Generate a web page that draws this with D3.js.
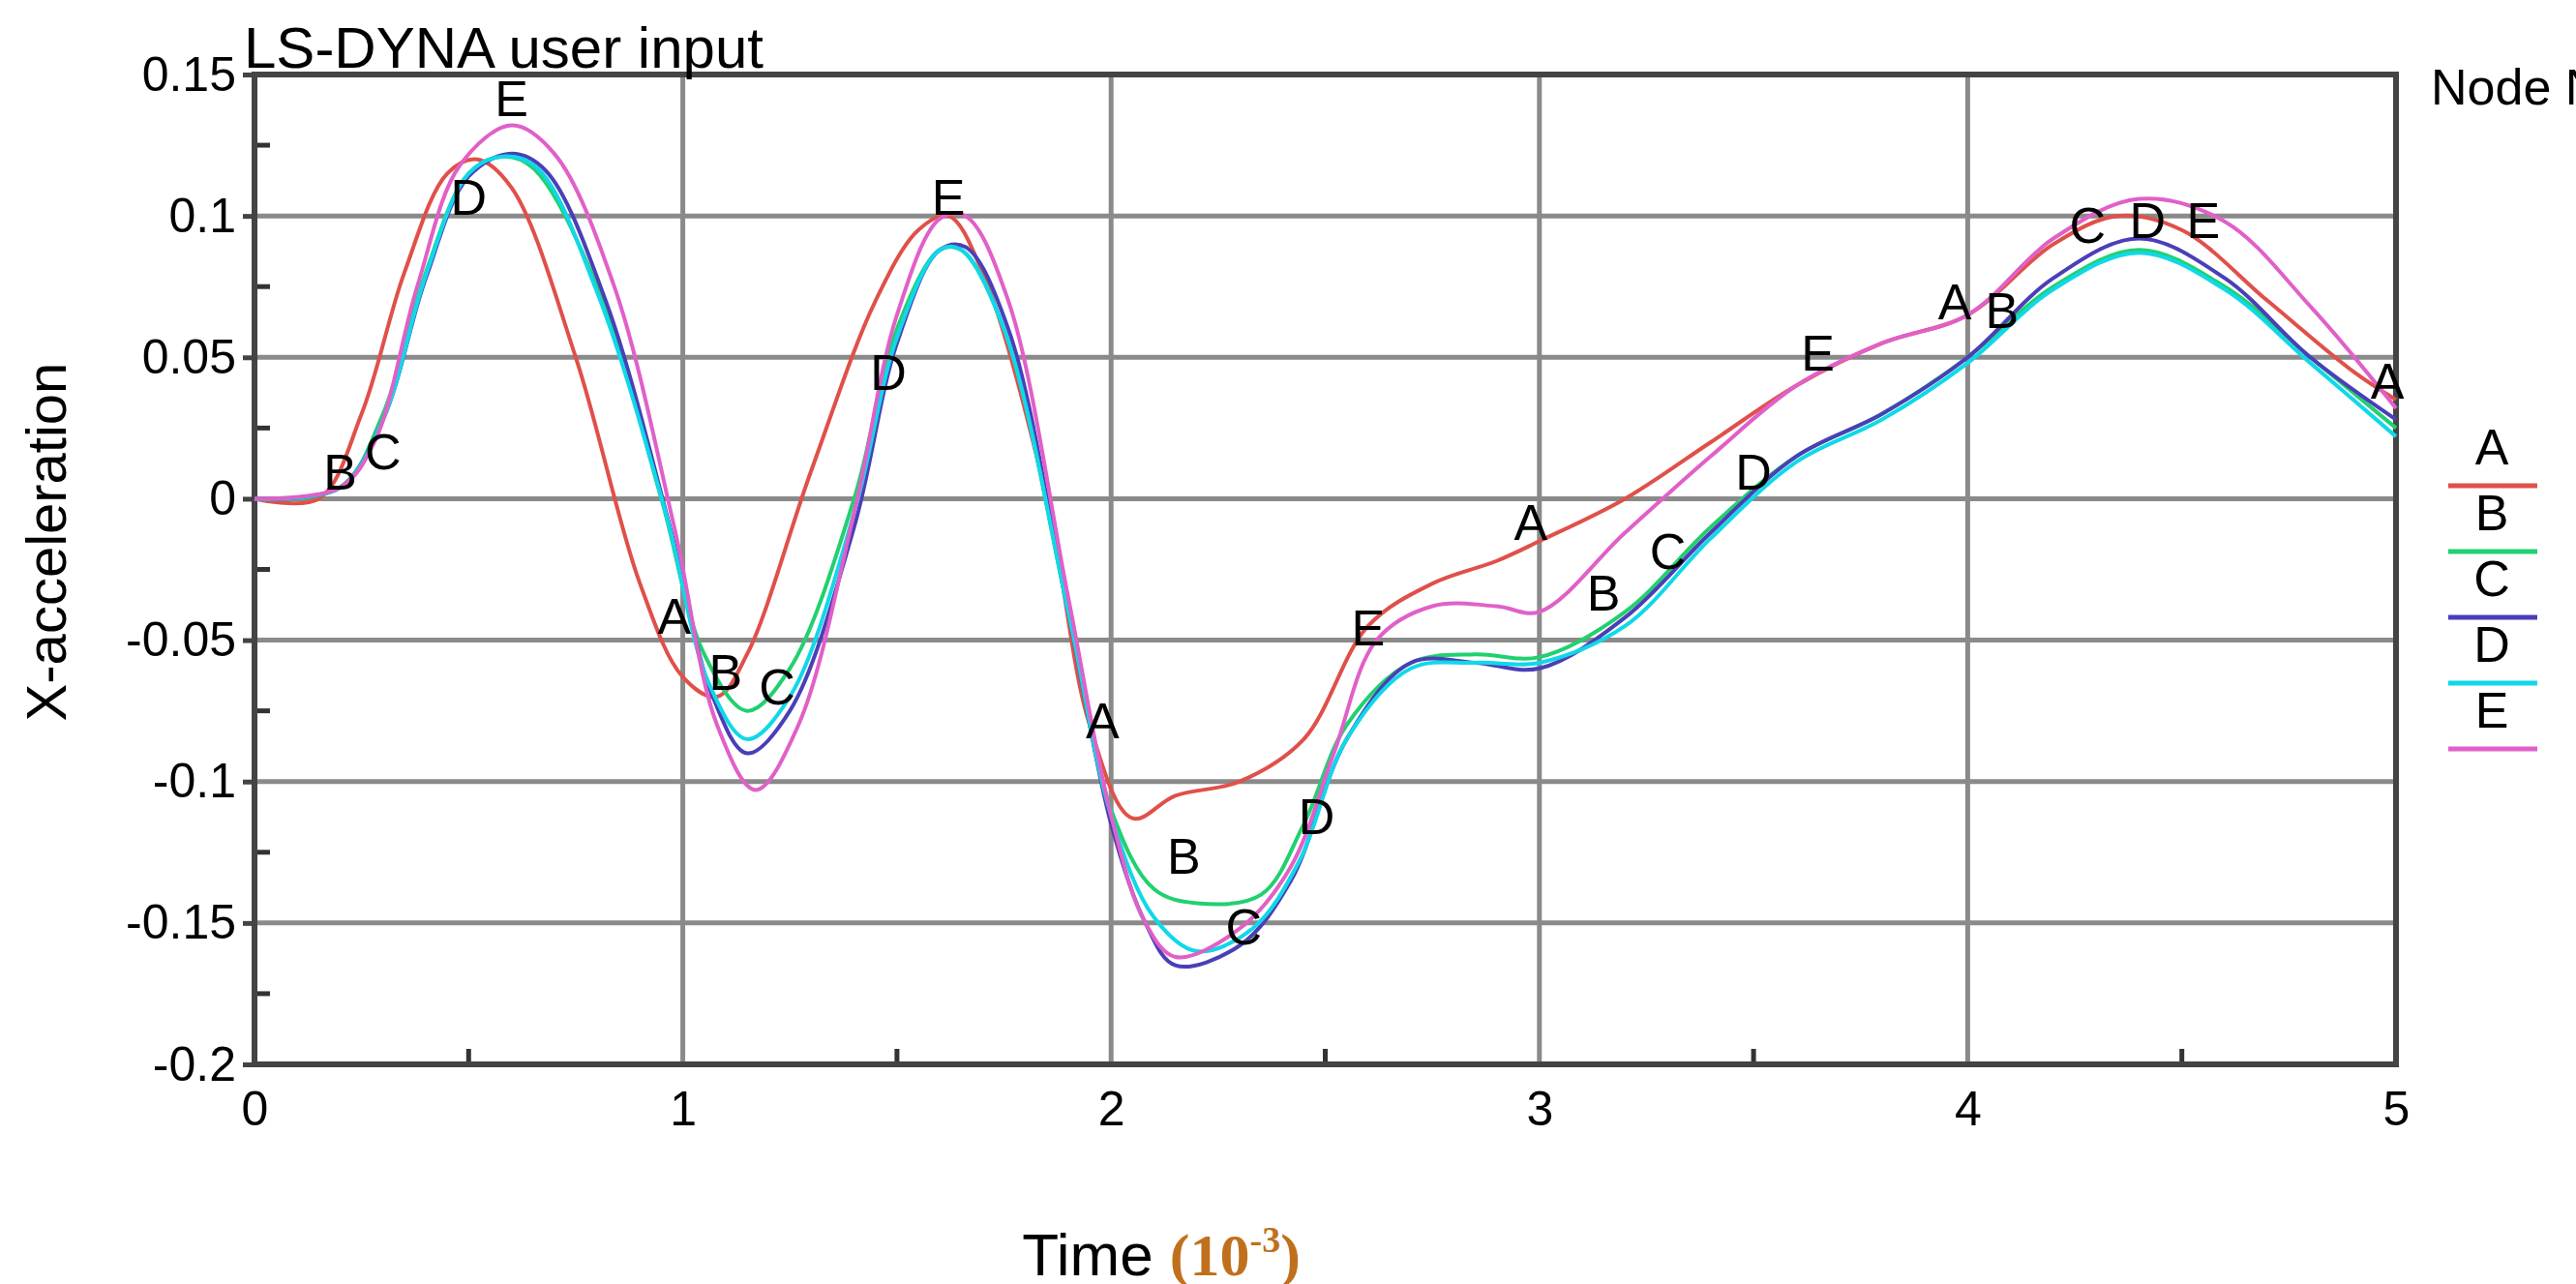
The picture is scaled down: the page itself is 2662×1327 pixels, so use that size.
<!DOCTYPE html>
<html>
<head>
<meta charset="utf-8">
<script src="https://d3js.org/d3.v7.min.js"></script>
<style>
  body { margin: 0; background: #fff; }
  text { font-family: "Liberation Sans", Arial, sans-serif; }
</style>
</head>
<body>
<svg id="vis" width="2662" height="1327"></svg>
<script>
// data (time in 1e-3 s, acceleration)
var seriesNames = ["A", "B", "C", "D", "E"];
var seriesColors = ["#e0504a", "#22d070", "#4a3fb8", "#10d8e8", "#e060c8"];
var xTicks = [0, 1, 2, 3, 4, 5];
var yTicks = [0.15, 0.1, 0.05, 0, -0.05, -0.1, -0.15, -0.2];

var seriesA = [[0,0],[0.15,0],[0.25,0.03],[0.35,0.08],[0.45,0.115],[0.52,0.12],[0.6,0.11],[0.75,0.05],[0.9,-0.03],[1.0,-0.063],[1.08,-0.07],[1.15,-0.055],[1.3,0.01],[1.45,0.07],[1.55,0.095],[1.62,0.1],[1.7,0.08],[1.85,0.0],[1.95,-0.08],[2.05,-0.113],[2.15,-0.105],[2.3,-0.1],[2.45,-0.085],[2.6,-0.045],[2.75,-0.03],[2.9,-0.022],[3.0,-0.015],[3.2,0.0],[3.4,0.02],[3.6,0.04],[3.8,0.055],[4.0,0.065],[4.2,0.09],[4.35,0.1],[4.5,0.095],[4.7,0.07],[4.9,0.045],[5,0.035]];
var seriesB = [[0,0],[0.2,0.004],[0.3,0.03],[0.4,0.08],[0.5,0.115],[0.58,0.121],[0.65,0.117],[0.8,0.075],[0.95,0.0],[1.05,-0.055],[1.15,-0.075],[1.25,-0.06],[1.4,0.0],[1.5,0.06],[1.6,0.088],[1.65,0.088],[1.75,0.06],[1.9,-0.04],[2.0,-0.11],[2.1,-0.138],[2.2,-0.143],[2.35,-0.14],[2.45,-0.115],[2.55,-0.08],[2.7,-0.058],[2.85,-0.055],[3.0,-0.056],[3.2,-0.04],[3.4,-0.01],[3.6,0.015],[3.8,0.03],[4.0,0.05],[4.2,0.075],[4.4,0.088],[4.6,0.075],[4.8,0.05],[5,0.025]];
var seriesC = [[0,0],[0.2,0.004],[0.3,0.028],[0.4,0.078],[0.5,0.114],[0.6,0.122],[0.68,0.116],[0.82,0.07],[0.97,-0.01],[1.07,-0.07],[1.15,-0.09],[1.25,-0.075],[1.4,-0.01],[1.5,0.055],[1.6,0.088],[1.66,0.089],[1.76,0.06],[1.9,-0.04],[2.0,-0.115],[2.08,-0.15],[2.15,-0.165],[2.3,-0.158],[2.42,-0.135],[2.55,-0.085],[2.7,-0.058],[2.85,-0.058],[3.0,-0.06],[3.2,-0.042],[3.4,-0.012],[3.6,0.015],[3.8,0.03],[4.0,0.05],[4.2,0.078],[4.4,0.092],[4.6,0.078],[4.8,0.05],[5,0.028]];
var seriesD = [[0,0],[0.2,0.004],[0.3,0.028],[0.4,0.079],[0.5,0.115],[0.58,0.121],[0.66,0.117],[0.8,0.073],[0.96,-0.005],[1.06,-0.065],[1.15,-0.085],[1.25,-0.07],[1.4,-0.005],[1.5,0.057],[1.6,0.088],[1.65,0.088],[1.75,0.06],[1.9,-0.04],[2.0,-0.112],[2.1,-0.148],[2.2,-0.16],[2.33,-0.152],[2.44,-0.128],[2.55,-0.085],[2.7,-0.06],[2.85,-0.058],[3.0,-0.058],[3.2,-0.045],[3.4,-0.014],[3.6,0.013],[3.8,0.028],[4.0,0.048],[4.2,0.074],[4.4,0.087],[4.6,0.074],[4.8,0.048],[5,0.022]];
var seriesE = [[0,0],[0.2,0.004],[0.28,0.02],[0.38,0.075],[0.48,0.118],[0.6,0.132],[0.7,0.122],[0.84,0.075],[0.98,-0.01],[1.08,-0.08],[1.17,-0.103],[1.27,-0.08],[1.4,-0.005],[1.5,0.065],[1.6,0.099],[1.66,0.1],[1.76,0.07],[1.9,-0.035],[2.0,-0.112],[2.08,-0.15],[2.15,-0.162],[2.3,-0.152],[2.42,-0.13],[2.52,-0.09],[2.62,-0.05],[2.75,-0.038],[2.9,-0.038],[3.0,-0.04],[3.2,-0.012],[3.4,0.015],[3.6,0.04],[3.8,0.055],[4.0,0.065],[4.2,0.092],[4.4,0.106],[4.6,0.098],[4.8,0.068],[5,0.032]];
var allSeries = [seriesA, seriesB, seriesC, seriesD, seriesE];

// letter markers drawn on the curves
var markText = ["B","C","D","E","A","B","C","D","E","A","B","C","D","E","A","B","C","D","E","A","B","C","D","E","A"];
var markX = [0.2,0.3,0.5,0.6,0.98,1.1,1.22,1.48,1.62,1.98,2.17,2.31,2.48,2.6,2.98,3.15,3.3,3.5,3.65,3.97,4.08,4.28,4.42,4.55,4.98];
var markY = [0.008,0.015,0.105,0.14,-0.043,-0.063,-0.068,0.043,0.105,-0.08,-0.128,-0.153,-0.114,-0.047,-0.01,-0.035,-0.02,0.008,0.05,0.068,0.065,0.095,0.097,0.097,0.04];

var svg = d3.select("#vis");
var pLeft = 263, pRight = 2476, pTop = 77, pBottom = 1100;
var x = d3.scaleLinear().domain([0, 5]).range([pLeft, pRight]);
var y = d3.scaleLinear().domain([-0.2, 0.15]).range([pBottom, pTop]);

// grid
svg.append("g").selectAll("line").data(xTicks).join("line")
  .attr("x1", d => x(d)).attr("x2", d => x(d)).attr("y1", pTop).attr("y2", pBottom)
  .attr("stroke", "#8a8a8a").attr("stroke-width", 5);
svg.append("g").selectAll("line").data(yTicks).join("line")
  .attr("x1", pLeft).attr("x2", pRight).attr("y1", d => y(d)).attr("y2", d => y(d))
  .attr("stroke", "#8a8a8a").attr("stroke-width", 5);

// minor ticks
svg.append("g").selectAll("line").data(d3.range(-0.175, 0.15, 0.05)).join("line")
  .attr("x1", pLeft).attr("x2", pLeft + 16).attr("y1", d => y(d)).attr("y2", d => y(d))
  .attr("stroke", "#333").attr("stroke-width", 5);
svg.append("g").selectAll("line").data(d3.range(0.5, 5, 1)).join("line")
  .attr("x1", d => x(d)).attr("x2", d => x(d)).attr("y1", pBottom).attr("y2", pBottom - 16)
  .attr("stroke", "#333").attr("stroke-width", 5);

// frame
svg.append("rect").attr("x", pLeft).attr("y", pTop).attr("width", pRight - pLeft).attr("height", pBottom - pTop)
  .attr("fill", "none").attr("stroke", "#444").attr("stroke-width", 6);

// axes labels
var yAxis = d3.axisLeft(y).tickValues(yTicks).tickSize(12).tickFormat(d => d === 0 ? "0" : String(d));
var gy = svg.append("g").attr("transform", "translate(" + pLeft + ",0)").call(yAxis);
gy.select(".domain").remove();
gy.selectAll("line").attr("stroke", "#444").attr("stroke-width", 5);
gy.selectAll("text").attr("font-size", 50).attr("fill", "#000").attr("dx", -4);

var xAxis = d3.axisBottom(x).tickValues(xTicks).tickSize(0).tickFormat(d3.format("d"));
var gx = svg.append("g").attr("transform", "translate(0," + pBottom + ")").call(xAxis);
gx.select(".domain").remove();
gx.selectAll("text").attr("font-size", 50).attr("fill", "#000").attr("dy", "1.2em");

// curves
var line = d3.line().x(d => x(d[0])).y(d => y(d[1])).curve(d3.curveCatmullRom);
svg.append("g").selectAll("path").data(allSeries).join("path")
  .attr("d", line).attr("fill", "none")
  .attr("stroke", (d, i) => seriesColors[i]).attr("stroke-width", 4);

// letters on curves
svg.append("g").selectAll("text").data(markText).join("text")
  .attr("x", (d, i) => x(markX[i])).attr("y", (d, i) => y(markY[i]))
  .attr("text-anchor", "middle").attr("dominant-baseline", "middle")
  .attr("font-size", 52).attr("fill", "#000").text(d => d);

// title
svg.append("text").attr("x", 252).attr("y", 70).attr("font-size", 60).text("LS-DYNA user input");

// y label
svg.append("text").attr("transform", "translate(68,560) rotate(-90)")
  .attr("text-anchor", "middle").attr("font-size", 58).text("X-acceleration");

// x label
var xl = svg.append("text").attr("x", 1200).attr("y", 1318).attr("text-anchor", "middle").attr("font-size", 62);
xl.append("tspan").text("Time ");
xl.append("tspan").attr("font-family", "Liberation Serif, serif").attr("font-weight", "bold").attr("fill", "#c0701c").text("(10");
xl.append("tspan").attr("font-family", "Liberation Serif, serif").attr("font-weight", "bold").attr("fill", "#c0701c")
  .attr("font-size", 38).attr("dy", -24).text("-3");
xl.append("tspan").attr("font-family", "Liberation Serif, serif").attr("font-weight", "bold").attr("fill", "#c0701c")
  .attr("dy", 24).text(")");

// legend
svg.append("text").attr("x", 2512).attr("y", 108).attr("font-size", 52).text("Node No");
var lg = svg.append("g").selectAll("g").data(seriesNames).join("g")
  .attr("transform", (d, i) => "translate(0," + (480 + i * 68) + ")");
lg.append("text").attr("x", 2575).attr("y", 0).attr("text-anchor", "middle").attr("font-size", 52).text(d => d);
lg.append("line").attr("x1", 2530).attr("x2", 2622).attr("y1", 22).attr("y2", 22)
  .attr("stroke", (d, i) => seriesColors[i]).attr("stroke-width", 5);
</script>
</body>
</html>
